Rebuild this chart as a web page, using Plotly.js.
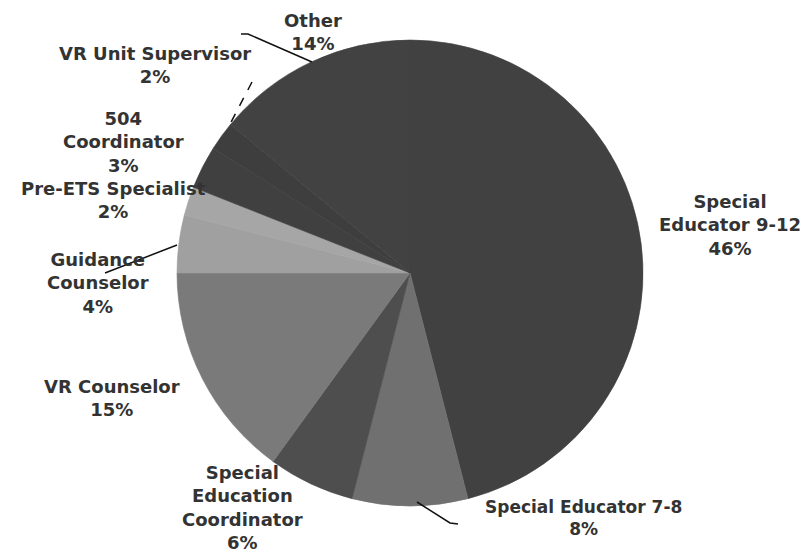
<!DOCTYPE html>
<html>
<head>
<meta charset="utf-8">
<script src="https://cdn.plot.ly/plotly-3.0.1.min.js"></script>
<style>html,body{margin:0;padding:0;background:#fff;}#chart{width:803px;height:554px;}</style>
</head>
<body>
<div id="chart"></div>
<script>
// Data
var labels = ["Special Educator 9-12", "Special Educator 7-8", "Special Education Coordinator", "VR Counselor", "Guidance Counselor", "Pre-ETS Specialist", "504 Coordinator", "VR Unit Supervisor", "Other"];
var values = [46, 8, 6, 15, 4, 2, 3, 2, 14];
var labelText = ["Special<br>Educator 9-12", "Special Educator 7-8", "Special<br>Education<br>Coordinator", "VR Counselor", "Guidance<br>Counselor", "Pre-ETS Specialist", "504<br>Coordinator", "VR Unit Supervisor", "Other"];
var sliceColors = ["#414141", "#707070", "#4e4e4e", "#7a7a7a", "#a0a0a0", "#a6a6a6", "#404040", "#3e3e3e", "#424242"];

// Label placement (pixels, centre of text block)
var labelX = [730, 583, 242, 112, 98, 113, 123, 155, 313];
var labelY = [225, 518, 507, 398, 283, 200, 142, 65, 32];

var W = 803, H = 554;
function px(x){ return x / W; }
function py(y){ return 1 - y / H; }

var cx = 410, cy = 273, r = 233;

var annotations = labels.map(function(l, i){
  return {
    xref: 'paper', yref: 'paper',
    x: px(labelX[i]), y: py(labelY[i]),
    xanchor: 'center', yanchor: 'middle',
    text: labelText[i] + '<br>' + values[i] + '%',
    showarrow: false,
    align: 'center',
    font: {family: 'DejaVu Sans', size: (i === 1 ? 17 : 18), color: '#333333', weight: 'bold'}
  };
});

function pathFrom(pts){
  return pts.map(function(p, i){ return (i ? 'L' : 'M') + px(p[0]) + ',' + py(p[1]); }).join(' ');
}
var leaderLines = [
  [[241,34],[248,34],[312,62]],
  [[417,502],[450,523],[458,524]],
  [[177,245],[105,273]]
];
var shapes = leaderLines.map(function(pts){
  return {type: 'path', xref: 'paper', yref: 'paper', path: pathFrom(pts), line: {color: '#111', width: 1.5}};
});
shapes.push({type: 'path', xref: 'paper', yref: 'paper', path: pathFrom([[252,82],[228,128]]), line: {color: '#111', width: 1.5, dash: 'dash'}});

var trace = {
  type: 'pie',
  labels: labels,
  values: values,
  sort: false,
  direction: 'clockwise',
  rotation: 0,
  textinfo: 'none',
  hoverinfo: 'none',
  showlegend: false,
  marker: {colors: sliceColors, line: {width: 0.6, color: sliceColors}},
  domain: {x: [px(cx - r), px(cx + r)], y: [py(cy + r), py(cy - r)]}
};

var layout = {
  width: W, height: H,
  margin: {l: 0, r: 0, t: 0, b: 0},
  paper_bgcolor: '#ffffff',
  showlegend: false,
  annotations: annotations,
  shapes: shapes
};

Plotly.newPlot('chart', [trace], layout, {displayModeBar: false, staticPlot: true});
</script>
</body>
</html>
